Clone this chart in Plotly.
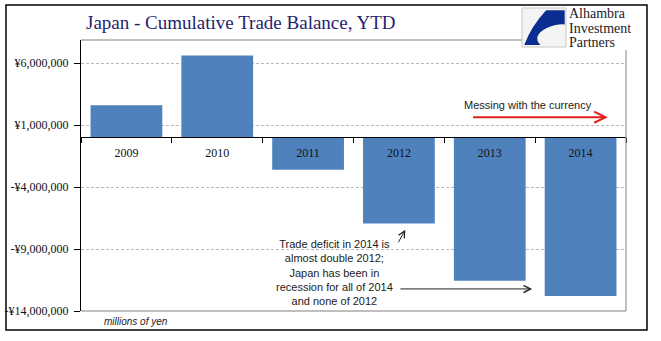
import plotly.graph_objects as go

# ---- data ----
years = ["2009", "2010", "2011", "2012", "2013", "2014"]
balance = [2600000, 6600000, -2600000, -6950000, -11550000, -12800000]  # millions of yen
tick_vals = [6000000, 1000000, -4000000, -9000000, -14000000]
tick_labels = ["¥6,000,000", "¥1,000,000", "-¥4,000,000", "-¥9,000,000", "-¥14,000,000"]

Y_MIN, Y_MAX = -14000000, 7860000

W, H = 661, 341
ML, MR, MT, MB = 81, 35, 40, 30
PW, PH = W - ML - MR, H - MT - MB


def px(x):
    return (x - ML) / PW


def py(y):
    return (H - MB - y) / PH


fig = go.Figure()
fig.add_trace(go.Bar(
    x=years, y=balance, marker=dict(color="#4F81BD", line=dict(width=0)),
    width=0.79, hoverinfo="x+y"))

serif = "Liberation Serif, Times New Roman, serif"
sans = "Liberation Sans Narrow, Liberation Sans, Arial, sans-serif"

fig.update_layout(
    width=W, height=H,
    margin=dict(l=ML, r=MR, t=MT, b=MB, autoexpand=False),
    paper_bgcolor="white", plot_bgcolor="white",
    showlegend=False,
    bargap=0.21,
    xaxis=dict(
        type="category", range=[-0.5, 5.5], anchor="free",
        position=(0 - Y_MIN) / (Y_MAX - Y_MIN), automargin=False,
        showline=True, linecolor="black", linewidth=1,
        ticks="outside", ticklen=5, tickcolor="black", tickson="boundaries",
        ticklabelstandoff=4,
        tickfont=dict(family=serif, size=12, color="#111"),
        showgrid=False, zeroline=False),
    yaxis=dict(
        range=[Y_MIN, Y_MAX], tickvals=tick_vals, ticktext=tick_labels,
        automargin=False,
        showline=True, linecolor="black", linewidth=1,
        ticks="outside", ticklen=6, tickcolor="black",
        ticklabelstandoff=3,
        tickfont=dict(family=serif, size=12, color="#111"),
        showgrid=True, gridcolor="#B8B8B8", griddash="3px,2px", gridwidth=1,
        zeroline=False),
)

shapes = []
# outer border
shapes.append(dict(type="rect", xref="paper", yref="paper",
                   x0=px(6), x1=px(647), y0=py(330), y1=py(5),
                   line=dict(color="black", width=1.5), layer="below"))
# plot frame lines
shapes.append(dict(type="line", xref="paper", yref="paper", x0=0, x1=px(522), y0=1, y1=1,
                   line=dict(color="#808080", width=1)))
shapes.append(dict(type="line", xref="paper", yref="paper", x0=1, x1=1, y0=0, y1=py(50),
                   line=dict(color="#808080", width=1)))
shapes.append(dict(type="line", xref="paper", yref="paper", x0=0, x1=1, y0=0, y1=0,
                   line=dict(color="#808080", width=1.2)))

# logo box
bx0, bx1, by0, by1 = 522, 566, 8, 47
shapes.append(dict(type="rect", xref="paper", yref="paper",
                   x0=px(bx0), x1=px(bx1), y0=py(by1), y1=py(by0),
                   fillcolor="#F4F4F4", line=dict(color="#C8C8C8", width=1)))


def lp(u, v):
    return f"{px(bx0 + u * (bx1 - bx0)):.5f},{py(by0 + v * (by1 - by0)):.5f}"


path = (f"M {lp(0.97,0.06)} L {lp(0.55,0.06)} Q {lp(0.22,0.45)} {lp(0.05,0.95)} "
        f"L {lp(0.42,0.95)} Q {lp(0.22,0.72)} {lp(0.55,0.52)} Q {lp(0.78,0.4)} {lp(0.97,0.42)} Z")
shapes.append(dict(type="path", xref="paper", yref="paper", path=path,
                   fillcolor="#0B2D8F", line=dict(width=0)))
fig.update_layout(shapes=shapes)

ann = []
ann.append(dict(xref="paper", yref="paper", x=px(84), y=py(22), xanchor="left", yanchor="middle",
                text="Japan - Cumulative Trade Balance, YTD", showarrow=False,
                font=dict(family=serif, size=19, color="#1F1F6E")))
for i, t in enumerate(["Alhambra", "Investment", "Partners"]):
    ann.append(dict(xref="paper", yref="paper", x=px(568), y=py(14 + 14.5 * i), xanchor="left",
                    yanchor="middle", text=t, showarrow=False, borderpad=0,
                    font=dict(family=serif, size=14, color="#1A1A2A")))
ann.append(dict(xref="paper", yref="paper", x=px(102), y=py(322), xanchor="left", yanchor="middle",
                text="<i>millions of yen</i>", showarrow=False,
                font=dict(family=sans, size=10, color="#222")))

# currency arrow
ann.append(dict(x=5.30, y=1630000, ax=3.80, ay=1630000, xref="x", yref="y", axref="x", ayref="y",
                text="", showarrow=True, arrowhead=5, arrowsize=1.1, arrowwidth=2,
                arrowcolor="#E0201B"))
ann.append(dict(x=4.42, y=2650000, xref="x", yref="y", text="Messing with the currency",
                showarrow=False, font=dict(family=sans, size=11, color="#222")))

# deficit note
ann.append(dict(x=2.29, y=-10880000, xref="x", yref="y",
                text=("Trade deficit in 2014 is<br>almost double 2012;<br>Japan has been in"
                      "<br>recession for all of 2014<br>and none of 2012"),
                showarrow=False, align="center",
                font=dict(family=sans, size=11, color="#222")))
ann.append(dict(x=3.07, y=-7440000, ax=2.985, ay=-8580000, xref="x", yref="y", axref="x", ayref="y",
                text="", showarrow=True, arrowhead=5, arrowsize=1.3, arrowwidth=1,
                arrowcolor="#222"))
ann.append(dict(x=4.467, y=-12220000, ax=3.0, ay=-12220000, xref="x", yref="y", axref="x", ayref="y",
                text="", showarrow=True, arrowhead=5, arrowsize=1.4, arrowwidth=1,
                arrowcolor="#222"))
fig.update_layout(annotations=ann)

fig.write_html("out.html")
